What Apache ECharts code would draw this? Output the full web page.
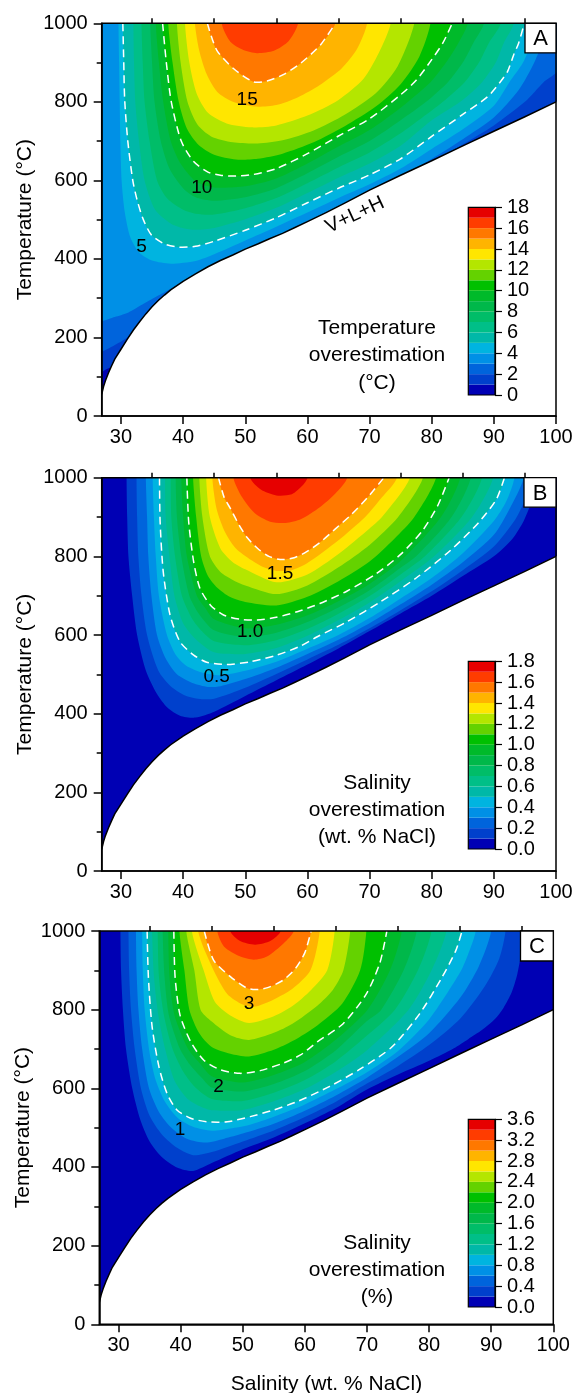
<!DOCTYPE html>
<html>
<head>
<meta charset="utf-8">
<script src="https://cdn.jsdelivr.net/npm/echarts@6/dist/echarts.min.js"></script>
<style>
html,body{margin:0;padding:0;background:#fff;}
#chart{width:576px;height:1393px;}
</style>
</head>
<body>
<div id="chart"></div>
<script>
// ---------------- data ----------------
// x-axis ticks (wt. % NaCl)
const xTicks = [30, 40, 50, 60, 70, 80, 90, 100];
const xMinorTicks = [35, 45, 55, 65, 75, 85, 95];

// V+L+H saturation boundary [wt.% NaCl, °C]
const vlhCurve = [[26.9,55],[27.2,75],[27.5,90],[28,110],[28.5,128],[29,145],[30,170],[31,195],[32,219],[33,240],[34,260],[35,278],[36,294],[37,308],[38,321],[40,343],[42,362],[44,380],[46,396],[48,410],[50,425],[52,438],[54,452],[56,465],[58,480],[60,495],[63,518],[66,542],[70,575],[75,613],[80,650],[85,688],[90,725],[95,762],[100,800]];

// contour levels (colour-bar tick values)
const tempLevels   = [0,1,2,3,4,5,6,7,8,9,10,11,12,13,14,15,16,17,18];
const salWtLevels  = [0,0.1,0.2,0.3,0.4,0.5,0.6,0.7,0.8,0.9,1.0,1.1,1.2,1.3,1.4,1.5,1.6,1.7,1.8];
const salRelLevels = [0,0.2,0.4,0.6,0.8,1.0,1.2,1.4,1.6,1.8,2.0,2.2,2.4,2.6,2.8,3.0,3.2,3.4,3.6];

// labelled (dashed) contours
const tempDashed   = [5, 10, 15];
const salWtDashed  = [0.5, 1.0, 1.5];
const salRelDashed = [1, 2, 3];

// isolines, one per level starting at the second entry of the level list: [wt.% NaCl, °C]
const tempIsolines = [
  [[26.5,110],[27.5,118],[28.5,127],[30,158],[35,265],[40,333],[50,415],[60,486],[70,565],[80,640],[90,715],[100.5,790]],
  [[26.5,165],[28,172],[29.5,185],[31,200],[33,235],[36,285],[40,335],[50,418],[60,488],[70,568],[80,645],[85,692],[90,740],[95,800],[98,850],[100.5,885]],
  [[26.5,245],[29,252],[31,262],[33,280],[35,298],[37,315],[39,333],[41,350],[44,375],[50,420],[55,454],[60,490],[65,530],[70,568],[75,607],[80,655],[85,705],[90,760],[94,830],[96.5,900],[98,960],[98.6,1000]],
  [[29.6,1000],[29.7,900],[29.8,800],[29.9,700],[30.1,600],[30.6,520],[31.5,455],[33,415],[35,396],[38,388],[42,395],[45,412],[50,447],[55,482],[60,518],[65,555],[70,590],[75,630],[80,680],[85,730],[90,790],[92.5,850],[94.7,900],[96,950],[97,1000]],
  [[30.3,1000],[30.45,900],[30.6,805],[31.1,700],[31.9,600],[32.6,550],[33.6,500],[34.9,461],[37,438],[39.3,430],[42,432],[45,445],[50,473],[55,505],[60,543],[65,580],[70,614],[75,655],[80,712],[85,768],[89,813],[91,850],[92.2,877],[93.2,920],[94,950],[94.9,1000]],
  [[32.0,1000],[32.1,900],[32.3,800],[32.9,700],[33.8,600],[35.5,525],[38,490],[40,478],[42,474],[45,479],[50,501],[55,530],[60,568],[65,607],[70,643],[75,688],[80,753],[84.6,800],[88.1,850],[90.3,900],[91.6,950],[93.2,1000]],
  [[33.3,1000],[33.5,900],[33.8,800],[34.6,700],[35.8,600],[37.5,553],[40,525],[42,515],[45,513],[50,529],[55,555],[60,593],[65,633],[70,671],[75,720],[78.5,760],[81.8,800],[85.3,850],[87.6,900],[89.2,950],[91.1,1000]],
  [[34.7,1000],[35.0,900],[35.4,800],[36.4,700],[37.8,630],[40,580],[42,557],[45,548],[50,557],[55,580],[60,618],[65,660],[70,700],[75,753],[79.1,800],[82.6,850],[85.0,900],[86.7,950],[88.4,1000]],
  [[35.6,1000],[36.1,900],[36.8,800],[38.0,700],[39.5,645],[42,598],[45,582],[50,585],[55,605],[60,643],[65,686],[70,728],[75,785],[79.8,850],[82.3,900],[84.3,950],[85.8,1000]],
  [[36.7,1000],[37.3,900],[38.1,800],[39.7,700],[41.7,648],[44,621],[46,613],[48.5,611],[51.3,615],[55,630],[60,668],[65,713],[70,757],[75,818],[77.5,855],[79.8,903],[81.8,950],[83.3,1000]],
  [[37.6,1000],[38.3,900],[39.3,800],[40.6,732],[42.5,690],[45,665],[48.5,653],[52,655],[56,668],[61,697],[66,738],[71,788],[75,845],[78,915],[79.8,1000]],
  [[39.0,1000],[39.6,900],[40.7,800],[42.3,742],[44.5,712],[48,697],[52,694],[56,702],[61,727],[66,767],[71,822],[74.5,890],[77.2,1000]],
  [[40.3,1000],[41,900],[42.2,820],[44,772],[47,745],[51,735],[55,740],[60,765],[65,805],[69,858],[71.5,925],[73.4,1000]],
  [[41.9,1000],[42.6,930],[43.8,870],[45.5,825],[48,800],[51.5,788],[55,792],[58.5,812],[62,843],[65.5,885],[68,935],[69.6,1000]],
  [[43.9,1000],[45.4,932],[48.1,885],[51.3,851],[53.5,853],[56.2,870],[58.9,898],[62.1,945],[64.5,1000]],
  [[46.2,1000],[47.6,953],[49.7,932],[51.9,924],[54.6,930],[57,955],[58.5,1000]]
];

const salWtIsolines = [
  [[30.9,1000],[31.0,900],[31.2,800],[31.8,700],[32.6,600],[34,510],[35.8,450],[37.5,415],[39.5,395],[42,390],[45,405],[50,445],[55,485],[60,525],[65,566],[70,610],[75,655],[80,700],[85,750],[90,800],[93,845],[94.8,890],[96.2,945],[97.2,1000]],
  [[32.5,1000],[32.6,900],[32.8,800],[33.3,700],[34.2,600],[36,510],[38,470],[40.5,445],[43,437],[45,438],[50,466],[55,501],[60,538],[65,575],[70,617],[75,663],[80,711],[85,765],[90,825],[93.5,895],[95.2,950],[96.2,1000]],
  [[34.0,1000],[34.2,900],[34.4,800],[34.9,700],[35.8,600],[37.2,540],[39,500],[41.5,478],[44,468],[46,470],[50,488],[55,517],[60,552],[65,588],[70,630],[75,678],[80,728],[85,785],[90,855],[92.5,920],[94.8,1000]],
  [[35.1,1000],[35.3,900],[35.6,800],[36.1,700],[37.4,600],[38.8,550],[40.5,522],[43,505],[46,498],[50,509],[55,532],[60,565],[65,600],[70,643],[75,693],[80,745],[85,808],[90,890],[92,940],[93.3,1000]],
  [[36.2,1000],[36.3,888],[36.8,761],[37.9,651],[39.5,583],[41.7,549],[43.8,531],[47,525],[50.8,532],[55.1,549],[58.9,572],[61.5,595],[66.4,634],[71.8,685],[77.5,745],[83,815],[87.5,885],[90.4,945],[91.7,1000]],
  [[37.1,1000],[37.2,900],[37.8,800],[38.6,700],[40,630],[42,590],[45,556],[50,552],[55,567],[60,598],[65,638],[70,683],[75,737],[80.4,800],[86.5,900],[89.9,1000]],
  [[38.0,1000],[38.1,900],[38.7,800],[39.8,700],[41.5,640],[43,610],[45,584],[50,574],[55,587],[60,615],[65,654],[70,699],[75,754],[78.9,800],[84.8,900],[88.1,1000]],
  [[38.8,1000],[39.0,900],[39.7,800],[41.0,700],[42.5,655],[45,612],[50,595],[55,606],[60,633],[65,670],[70,714],[75,771],[77.5,800],[83.2,900],[86.3,1000]],
  [[39.7,1000],[40.0,900],[40.6,800],[42.2,700],[43.5,670],[45,640],[50,617],[55,626],[60,650],[65,686],[70,730],[75,788],[81.5,900],[84.6,1000]],
  [[40.6,1000],[40.9,888],[41.7,786],[42.7,719],[44.4,676],[46.5,651],[49.2,640],[51.9,638],[55,645],[58.5,660],[62,680],[66.4,712],[71,755],[75,805],[78.5,865],[81,930],[82.8,1000]],
  [[41.6,1000],[42.1,900],[42.9,800],[44,750],[45.5,720],[47.5,697],[50,684],[55,675],[60,697],[65,737],[70,787],[74,845],[77.2,900],[80.7,1000]],
  [[42.6,1000],[43.1,900],[44.3,800],[46,760],[48,740],[50,726],[55,704],[60,726],[65,772],[70,829],[74.6,900],[78.6,1000]],
  [[43.7,1000],[44.3,900],[46,820],[48,785],[50,767],[55,734],[60,754],[65,806],[70,871],[72,900],[76.5,1000]],
  [[44.7,1000],[45.4,920],[46.8,860],[48.5,820],[51,790],[53,772],[55,763],[57.5,765],[60,783],[65,841],[69.3,900],[72,950],[74.4,1000]],
  [[45.7,1000],[46.6,950],[47.6,922],[49,880],[50.3,848],[52,820],[53.8,800],[55.6,792],[57.5,795],[59.5,808],[62,835],[64.5,870],[67,905],[69.7,950],[72.3,1000]],
  [[48.1,1000],[49.5,950],[51.5,910],[54,888],[56.5,885],[59,895],[62,925],[64.5,960],[66.4,1000]],
  [[50.8,1000],[52.5,970],[55,955],[57.5,958],[59.2,980],[60,1000]]
];

const salRelIsolines = [
  [[30.3,1000],[30.4,900],[30.7,800],[31.2,700],[32.2,600],[33.5,520],[35,465],[37,425],[39.5,398],[42,390],[45,410],[50,445],[55,475],[60,511],[65,550],[70,597],[75,635],[80,670],[84,702],[86.3,725],[88.5,748],[90.6,776],[92,805],[93.3,844],[94.2,890],[94.8,940],[95.3,1000]],
  [[31.6,1000],[31.7,900],[32.0,800],[32.6,700],[33.6,600],[35,530],[37,482],[39.5,448],[42,430],[45,438],[50,465],[55,493],[60,527],[65,566],[70,612],[75,657],[80,710],[85,777],[89,860],[91.3,930],[92.3,1000]],
  [[32.8,1000],[32.9,900],[33.2,800],[33.8,700],[34.9,600],[36.5,540],[38.5,500],[41,472],[44,462],[47,472],[50,485],[55,510],[60,543],[65,582],[70,627],[75,680],[80,740],[85,830],[88,910],[90,1000]],
  [[33.8,1000],[33.9,900],[34.2,800],[35,690],[36,620],[37.5,565],[39.5,525],[42,502],[45,492],[48,498],[51,507],[55,528],[60,559],[65,598],[70,641],[75,695],[80,775],[85,895],[86.5,950],[87.5,1000]],
  [[34.6,1000],[34.8,884],[35.4,757],[36.5,655],[37.8,587],[39.4,545],[41.6,524],[44.2,515],[47.5,515],[51.2,528],[55,545],[59,568],[64,605],[69,650],[74,705],[78.5,790],[82,880],[84.3,950],[85.3,1000]],
  [[35.4,1000],[35.7,884],[36.4,786],[37.5,700],[39,620],[41,575],[43,555],[45,544],[50,545],[55,567],[60,598],[65,642],[70,697],[76.7,800],[80.4,900],[82.8,1000]],
  [[36.3,1000],[36.5,884],[37.3,786],[38.7,700],[40.5,640],[42.5,600],[45,573],[50,568],[55,589],[60,621],[65,669],[70,734],[74.5,800],[78.2,900],[80.4,1000]],
  [[37.1,1000],[37.4,884],[38.1,786],[39.9,700],[41.5,660],[43.5,625],[45,602],[50,592],[55,611],[60,644],[65,697],[70,771],[72.3,800],[75.9,900],[78.0,1000]],
  [[38.0,1000],[38.2,884],[39.0,786],[41.2,700],[43,665],[45,631],[50,615],[55,634],[60,667],[65,724],[70.1,800],[73.7,900],[75.6,1000]],
  [[38.9,1000],[39.1,884],[39.9,786],[41.6,719],[43.7,672],[46.4,647],[49.6,638],[52.8,645],[56.5,664],[59.3,685],[62,718],[66.2,765],[69.9,840],[72.1,920],[73.2,1000]],
  [[39.8,1000],[40.6,900],[41.4,800],[43,740],[45,705],[48,688],[51,681],[55,698],[58,720],[62,760],[66,815],[68.9,900],[69.9,1000]],
  [[40.9,1000],[42.2,900],[43.2,800],[45,770],[48,735],[51,723],[55,741],[58,764],[62,810],[64.5,850],[66.2,900],[67.3,1000]],
  [[41.8,1000],[43.7,900],[45.5,820],[48,785],[51,766],[55,783],[58,809],[61,850],[63.6,900],[64.8,1000]],
  [[42.8,1000],[45.3,900],[47.5,840],[50,813],[52,808],[55,826],[58,853],[60.9,900],[62.4,1000]],
  [[43.8,1000],[45.3,926],[48,884],[50.5,856],[52,851],[54,856],[56.5,875],[58.5,905],[60,945],[61,1000]],
  [[45.9,1000],[47,960],[49.6,935],[51.8,927],[53.9,935],[56.6,969],[58.2,1000]],
  [[48.0,1000],[49.5,975],[52,965],[54.5,975],[56.1,1000]]
];

// ---------------- styling / layout ----------------
const bandColors = ['#0000b4','#0040cc','#0064dc','#0090e6','#00b4e0','#00b8a8','#00bf88','#00bd68','#00b84a','#00ba2a','#00c000','#64d200','#b4e600','#ffe600','#ffb400','#ff7800','#ff3c00','#e60000'];
const FONT = "'Liberation Sans', Arial, Helvetica, sans-serif";
const TICK_FS = 20, TITLE_FS = 21;

const panels = [
  { lines: tempIsolines, levels: tempLevels, dashed: tempDashed, fmt: v => String(v), cbFmt: v => String(Math.round(v)), cbStep: 2,
    caption: ['Temperature', 'overestimation', '(\u00B0C)'], letter: 'A',
    left: 101.7, top: 23.3, width: 454.3, height: 392.7, cbTop: 207.3, capY: [328, 355, 383], yTitle: [25, 219.7],
    box: [525, 23.3, 31, 29.5], labelAt: [[33.3, 431], [43.0, 580], [50.3, 805]] },
  { lines: salWtIsolines, levels: salWtLevels, dashed: salWtDashed, fmt: v => v.toFixed(1), cbFmt: v => v.toFixed(1), cbStep: 0.2,
    caption: ['Salinity', 'overestimation', '(wt. % NaCl)'], letter: 'B',
    left: 101.7, top: 477.7, width: 454.3, height: 393.3, cbTop: 661.3, capY: [783, 810, 837], yTitle: [25, 674.3],
    box: [524, 477.7, 32, 29.5], labelAt: [[45.4, 494], [50.8, 608], [55.6, 757]] },
  { lines: salRelIsolines, levels: salRelLevels, dashed: salRelDashed, fmt: v => String(Math.round(v)), cbFmt: v => v.toFixed(1), cbStep: 0.4,
    caption: ['Salinity', 'overestimation', '(%)'], letter: 'C',
    left: 99.3, top: 931, width: 454, height: 393.3, cbTop: 1119.3, capY: [1243, 1270, 1297], yTitle: [23, 1127.6],
    box: [520.5, 931, 32.8, 30], labelAt: [[39.9, 494], [46.1, 604], [51.0, 814]] }
];
const CB_LEFT = 468.3, CB_W = 26.7, CB_H = 187.7;
const SMOOTH = 0.25;

// ---------------- build option ----------------
const grid = [], xAxis = [], yAxis = [], series = [], elements = [];
const black = { color: '#000', width: 1.5 };

function closedPolygon(line) {
  const first = line[0], last = line[line.length - 1];
  return line.concat([[last[0], 1100], [first[0], 1100]]);
}

// grids: 0..2 contour panels, 3..5 colour bars
panels.forEach(p => grid.push({ left: p.left, top: p.top, width: p.width, height: p.height }));
panels.forEach(p => grid.push({ left: CB_LEFT, top: p.cbTop, width: CB_W, height: CB_H }));

panels.forEach((p, pi) => {
  // main x axis
  xAxis.push({
    gridIndex: pi, type: 'value', min: 26.9, max: 100, z: 5,
    axisLine: { show: true, onZero: false, lineStyle: black },
    axisTick: { show: true, customValues: xTicks, length: 8, lineStyle: black },
    axisLabel: { customValues: xTicks, color: '#000', fontSize: TICK_FS, fontFamily: FONT, margin: 11 },
    splitLine: { show: false }
  });
  // minor ticks on x
  xAxis.push({
    gridIndex: pi, type: 'value', min: 26.9, max: 100, z: 5,
    axisLine: { show: false, onZero: false },
    axisTick: { show: true, customValues: xMinorTicks, length: 5, lineStyle: black },
    axisLabel: { show: false },
    splitLine: { show: false }
  });
  yAxis.push({
    gridIndex: pi, type: 'value', min: 0, max: 1000, interval: 200, z: 5,
    axisLine: { show: true, onZero: false, lineStyle: black },
    axisTick: { show: true, length: 8, lineStyle: black },
    minorTick: { show: true, splitNumber: 2, length: 5, lineStyle: black },
    axisLabel: { color: '#000', fontSize: TICK_FS, fontFamily: FONT, margin: 14, formatter: v => String(v) },
    splitLine: { show: false }, minorSplitLine: { show: false }
  });

  // filled contour bands
  series.push({
    type: 'custom', xAxisIndex: pi * 2, yAxisIndex: pi, clip: true, silent: true, z: 2,
    data: p.levels.slice(0, p.lines.length + 1).map((v, i) => [50, v]),
    renderItem(params, api) {
      const i = params.dataIndex;
      const pts = i === 0
        ? [[20, -100], [110, -100], [110, 1100], [20, 1100]]
        : closedPolygon(p.lines[i - 1]);
      return {
        type: 'polygon',
        shape: { points: pts.map(q => api.coord(q)), smooth: i === 0 ? 0 : SMOOTH },
        style: { fill: bandColors[i] }
      };
    }
  });

  // region below the V+L+H boundary and the boundary itself
  series.push({
    type: 'custom', xAxisIndex: pi * 2, yAxisIndex: pi, clip: true, silent: true, z: 3,
    data: [[50, 0]],
    renderItem(params, api) {
      const mask = vlhCurve.concat([[110, 800], [110, -100], [20, -100], [20, vlhCurve[0][1]]]);
      return {
        type: 'group',
        children: [
          { type: 'polygon', shape: { points: mask.map(q => api.coord(q)) }, style: { fill: '#fff' } },
          { type: 'polyline', shape: { points: vlhCurve.map(q => api.coord(q)) }, style: { stroke: '#000', lineWidth: 1.5, fill: null } }
        ]
      };
    }
  });

  // dashed labelled contours
  const dashedIdx = p.dashed.map(v => p.levels.findIndex(l => Math.abs(l - v) < 1e-9));
  series.push({
    type: 'custom', xAxisIndex: pi * 2, yAxisIndex: pi, clip: true, silent: true, z: 4,
    data: dashedIdx.map(k => [50, p.levels[k]]),
    renderItem(params, api) {
      const k = dashedIdx[params.dataIndex];
      return {
        type: 'polyline',
        shape: { points: p.lines[k - 1].map(q => api.coord(q)), smooth: SMOOTH },
        style: { stroke: '#fff', lineWidth: 1.5, lineDash: [8, 5], fill: null }
      };
    }
  });

  // contour value labels
  series.push({
    type: 'custom', xAxisIndex: pi * 2, yAxisIndex: pi, clip: true, silent: true, z: 6,
    data: dashedIdx.map(k => [50, p.levels[k]]),
    renderItem(params, api) {
      const k = dashedIdx[params.dataIndex];
      const c = api.coord(p.labelAt[params.dataIndex]);
      return {
        type: 'text', x: c[0], y: c[1],
        style: { text: p.fmt(p.levels[k]), font: `19px ${FONT}`, fill: '#000', textAlign: 'center', textVerticalAlign: 'middle' }
      };
    }
  });
});

panels.forEach((p, pi) => {
  const cbGrid = 3 + pi;
  xAxis.push({
    gridIndex: cbGrid, type: 'value', min: 0, max: 1,
    axisLine: { show: false }, axisTick: { show: false }, axisLabel: { show: false }, splitLine: { show: false }
  });
  const maxLevel = p.levels[p.levels.length - 1];
  yAxis.push({
    gridIndex: cbGrid, type: 'value', position: 'right', min: 0, max: maxLevel, interval: p.cbStep, z: 12,
    axisLine: { show: true, onZero: false, lineStyle: { color: '#000', width: 1.2 } },
    axisTick: { show: true, length: 7, lineStyle: { color: '#000', width: 1.2 } },
    axisLabel: { color: '#000', fontSize: TICK_FS, fontFamily: FONT, margin: 12, formatter: v => p.cbFmt(v) },
    splitLine: { show: false }
  });
  // one rectangle per band, from its lower to its upper level (drawn above the panel's white mask)
  series.push({
    type: 'custom', xAxisIndex: 6 + pi, yAxisIndex: 3 + pi, silent: true, z: 10,
    data: bandColors.map((c, i) => [0.5, p.levels[i]]),
    renderItem(params, api) {
      const i = params.dataIndex;
      const a = api.coord([0, p.levels[i + 1]]);
      const b = api.coord([1, p.levels[i]]);
      return { type: 'rect', shape: { x: a[0], y: a[1], width: b[0] - a[0], height: b[1] - a[1] }, style: { fill: bandColors[i] } };
    }
  });

  // frames, panel letters, captions, titles
  elements.push({ type: 'rect', z: 100, silent: true, shape: { x: p.left, y: p.top, width: p.width, height: p.height }, style: { fill: null, stroke: '#000', lineWidth: 1.5 } });
  elements.push({ type: 'rect', z: 100, silent: true, shape: { x: CB_LEFT, y: p.cbTop, width: CB_W, height: CB_H }, style: { fill: null, stroke: '#000', lineWidth: 1.2 } });
  elements.push({ type: 'rect', z: 101, silent: true, shape: { x: p.box[0], y: p.box[1], width: p.box[2], height: p.box[3] }, style: { fill: '#fff', stroke: '#000', lineWidth: 1.3 } });
  elements.push({ type: 'text', z: 102, silent: true, x: p.box[0] + p.box[2] / 2, y: p.box[1] + p.box[3] / 2 + 1,
    style: { text: p.letter, font: `22px ${FONT}`, fill: '#000', textAlign: 'center', textVerticalAlign: 'middle' } });
  p.caption.forEach((t, j) => {
    elements.push({ type: 'text', z: 102, silent: true, x: 377, y: p.capY[j],
      style: { text: t, font: `${TITLE_FS}px ${FONT}`, fill: '#000', textAlign: 'center', textVerticalAlign: 'middle' } });
  });
  elements.push({ type: 'text', z: 102, silent: true, x: p.yTitle[0], y: p.yTitle[1], rotation: Math.PI / 2,
    style: { text: 'Temperature (\u00B0C)', font: `${TITLE_FS}px ${FONT}`, fill: '#000', textAlign: 'center', textVerticalAlign: 'middle' } });
});

elements.push({ type: 'text', z: 102, silent: true, x: 326.5, y: 1384,
  style: { text: 'Salinity (wt. % NaCl)', font: `${TITLE_FS}px ${FONT}`, fill: '#000', textAlign: 'center', textVerticalAlign: 'middle' } });
elements.push({ type: 'text', z: 102, silent: true, x: 355, y: 215, rotation: 25 * Math.PI / 180,
  style: { text: 'V+L+H', font: `20px ${FONT}`, fill: '#000', textAlign: 'center', textVerticalAlign: 'middle' } });

const chart = echarts.init(document.getElementById('chart'), null, { renderer: 'canvas', width: 576, height: 1393 });
chart.setOption({
  animation: false,
  backgroundColor: '#fff',
  grid, xAxis, yAxis, series,
  graphic: { elements }
});
</script>
</body>
</html>
